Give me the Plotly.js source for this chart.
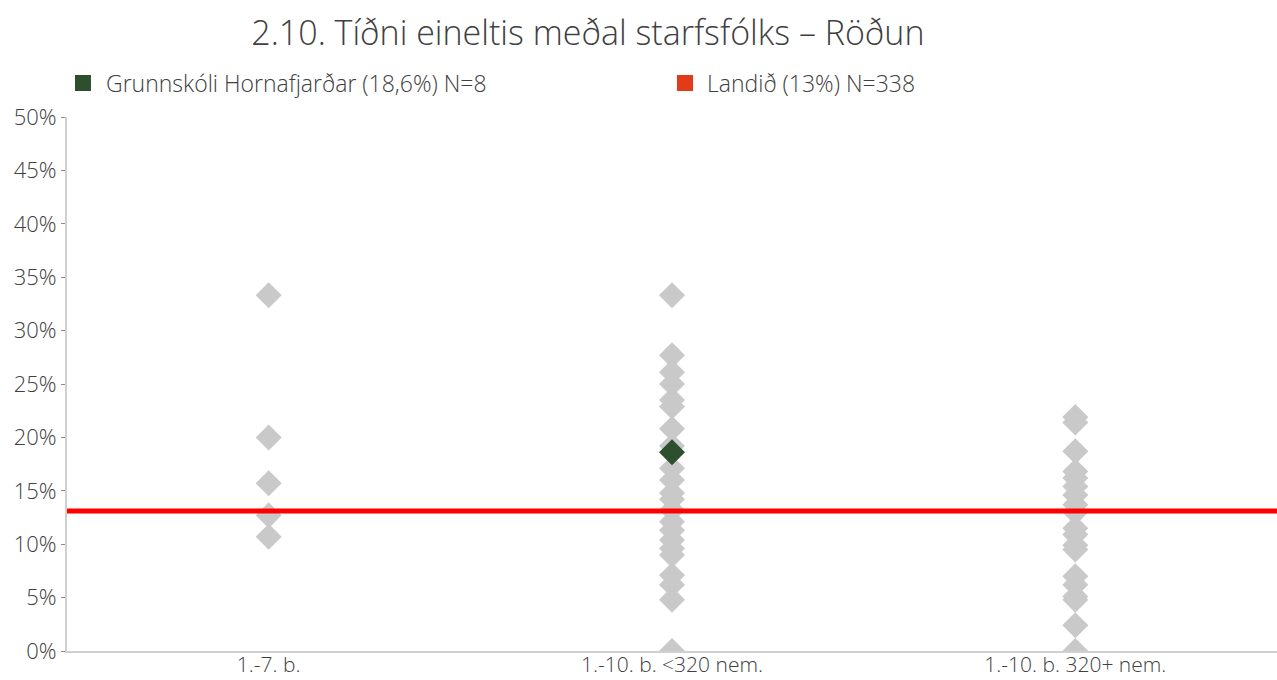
<!DOCTYPE html>
<html>
<head>
<meta charset="utf-8">
<script src="https://cdn.plot.ly/plotly-3.0.1.min.js"></script>
<style>html,body{margin:0;padding:0;background:#fff;}#chart{width:1277px;height:680px;}</style>
</head>
<body>
<div id="chart"></div>
<script>
const categories = ["1.-7. b.", "1.-10. b. <320 nem.", "1.-10. b. 320+ nem."];
const schools_1_7 = [33.3, 20.0, 15.7, 12.7, 10.7];
const schools_small = [33.3, 27.7, 26.1, 25.0, 23.5, 22.9, 20.8, 19.2, 17.1, 16.0, 14.8, 14.2, 13.2, 12.1, 11.3, 10.4, 9.6, 9.0, 7.1, 6.2, 4.8, 0.0];
const schools_large = [21.9, 21.4, 18.7, 16.8, 16.2, 15.4, 14.6, 13.7, 13.0, 11.5, 10.9, 9.9, 9.5, 7.0, 6.2, 5.1, 4.8, 2.4, 0.0];
const school_name = "Grunnskóli Hornafjarðar (18,6%) N=8";
const school_category = "1.-10. b. <320 nem.";
const school_value = 18.6;
const national_name = "Landið (13%) N=338";
const national_value = 13.1;
const yTickVals = [0, 5, 10, 15, 20, 25, 30, 35, 40, 45, 50];
const yTickText = ["0%", "5%", "10%", "15%", "20%", "25%", "30%", "35%", "40%", "45%", "50%"];

const groups = [schools_1_7, schools_small, schools_large];
const gx = [], gy = [];
groups.forEach((g, i) => g.forEach(v => { gx.push(categories[i]); gy.push(v); }));

const font = "'Open Sans', Lato, sans-serif";
const txt = "#404040";
const green = "#2E4F2E";
const legendRed = "#E03C1A";

const traces = [
  {type: "scatter", mode: "markers", x: gx, y: gy, showlegend: false, hoverinfo: "skip",
   marker: {symbol: "diamond", size: 20, color: "#C9C9C9"}},
  {type: "scatter", mode: "lines", x: [-0.5, 2.5], y: [national_value, national_value], xaxis: "x2",
   showlegend: false, line: {color: "#FF0000", width: 5}},
  {type: "scatter", mode: "markers", x: [school_category], y: [school_value], showlegend: false,
   marker: {symbol: "diamond", size: 20, color: green}}
];

const layout = {
  width: 1277, height: 680,
  margin: {l: 67, r: 0, t: 117, b: 29},
  paper_bgcolor: "#fff", plot_bgcolor: "#fff",
  showlegend: false,
  title: {text: "2.10. Tíðni eineltis meðal starfsfólks – Röðun", x: 0.4604, xanchor: "center", y: 0.951, yanchor: "middle",
          font: {family: font, size: 34, color: txt, weight: 300}},
  xaxis: {type: "category", categoryorder: "array", categoryarray: categories, range: [-0.5, 2.5],
          showgrid: false, zeroline: false, showline: true, linecolor: "#D0D0D0", linewidth: 2,
          ticks: "", ticklabelstandoff: -6, tickfont: {family: font, size: 21, color: txt, weight: 300}},
  xaxis2: {overlaying: "x", range: [-0.5, 2.5], visible: false},
  yaxis: {range: [0, 50], tickvals: yTickVals, ticktext: yTickText, showgrid: false, zeroline: false,
          showline: true, linecolor: "#D0D0D0", linewidth: 2, ticks: "outside", ticklen: 4, tickcolor: "#888",
          tickfont: {family: font, size: 22, color: txt, weight: 300}},
  shapes: [
    {type: "rect", xref: "paper", yref: "paper", x0: 0.0066, x1: 0.0198, y0: 1.0487, y1: 1.0787,
     fillcolor: green, line: {width: 0}},
    {type: "rect", xref: "paper", yref: "paper", x0: 0.5041, x1: 0.5174, y0: 1.0487, y1: 1.0787,
     fillcolor: legendRed, line: {width: 0}}
  ],
  annotations: [
    {xref: "paper", yref: "paper", x: 0.0306, y: 1.0637, xanchor: "left", yanchor: "middle", showarrow: false,
     text: school_name, font: {family: font, size: 23, color: txt, weight: 300}},
    {xref: "paper", yref: "paper", x: 0.5273, y: 1.0637, xanchor: "left", yanchor: "middle", showarrow: false,
     text: national_name, font: {family: font, size: 23, color: txt, weight: 300}}
  ]
};

Plotly.newPlot("chart", traces, layout, {displayModeBar: false});
</script>
</body>
</html>
